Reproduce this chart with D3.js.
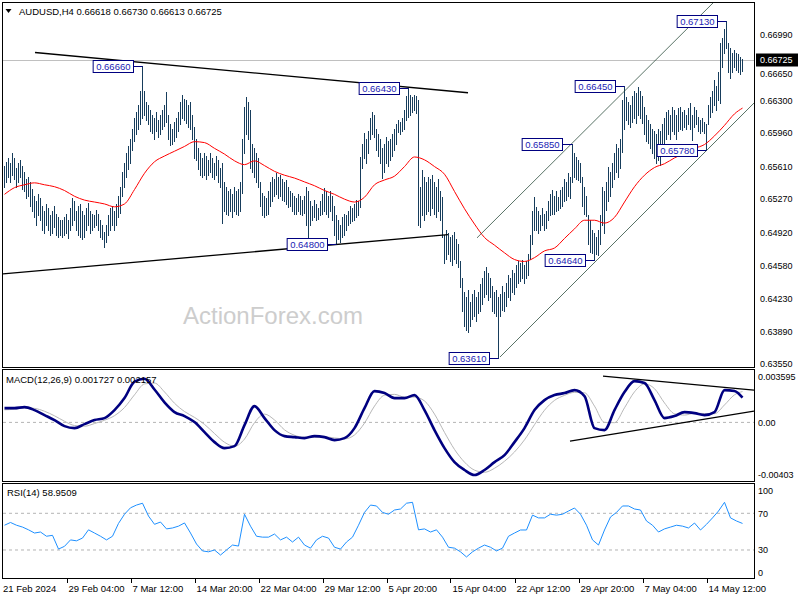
<!DOCTYPE html>
<html>
<head>
<meta charset="utf-8">
<script src="https://cdn.jsdelivr.net/npm/d3@7"></script>
<style>
  body { margin: 0; background: #fff; }
  text { font-family: "Liberation Sans", Arial, sans-serif; }
</style>
</head>
<body>
<svg id="chart" width="800" height="600"></svg>
<script>
// AUDUSD H4 bars, prices in pips (0.0001)
var highs = [
  6562,6566,6570,6565,6575,6570,6560,6565,6568,6562,
  6555,6548,6550,6545,6538,6530,6525,6532,6528,6520,
  6515,6522,6518,6510,6515,6520,6512,6508,6505,6505,
  6508,6512,6505,6518,6528,6525,6515,6520,6522,6515,
  6510,6518,6523,6515,6512,6510,6516,6512,6505,6500,
  6493,6500,6510,6518,6520,6515,6522,6530,6540,6555,
  6565,6575,6582,6590,6600,6612,6618,6625,6640,6666,
  6640,6628,6625,6620,6615,6612,6618,6610,6615,6620,
  6625,6639,6615,6605,6600,6608,6612,6618,6628,6636,
  6632,6630,6625,6628,6615,6602,6590,6580,6575,6570,
  6575,6572,6568,6575,6570,6565,6572,6568,6560,6565,
  6545,6540,6535,6538,6532,6540,6535,6538,6545,6590,
  6623,6634,6628,6620,6585,6580,6575,6570,6545,6533,
  6530,6528,6535,6545,6550,6548,6554,6550,6552,6548,
  6545,6547,6540,6535,6533,6530,6528,6532,6530,6526,
  6530,6540,6535,6525,6520,6526,6522,6518,6525,6532,
  6539,6535,6530,6536,6530,6520,6510,6505,6500,6508,
  6512,6510,6515,6520,6518,6522,6526,6525,6571,6585,
  6596,6590,6598,6612,6618,6615,6600,6595,6590,6580,
  6585,6592,6588,6590,6595,6600,6605,6610,6608,6612,
  6620,6635,6643,6636,6634,6636,6635,6630,6540,6557,
  6550,6545,6550,6548,6552,6545,6540,6548,6535,6529,
  6490,6495,6492,6488,6490,6493,6485,6480,6462,6445,
  6430,6425,6432,6420,6428,6432,6425,6430,6438,6445,
  6452,6456,6450,6445,6436,6430,6432,6425,6428,6436,
  6430,6440,6448,6445,6453,6450,6458,6462,6460,6464,
  6458,6462,6470,6490,6515,6529,6519,6515,6510,6518,
  6512,6515,6525,6532,6537,6530,6535,6529,6537,6540,
  6548,6545,6554,6550,6585,6575,6571,6568,6565,6550,
  6540,6530,6510,6505,6495,6492,6488,6495,6510,6540,
  6535,6545,6561,6555,6565,6575,6585,6580,6590,6630,
  6645,6634,6628,6625,6635,6640,6638,6644,6640,6635,
  6623,6615,6610,6605,6600,6598,6595,6600,6598,6605,
  6612,6618,6620,6615,6623,6620,6615,6622,6623,6618,
  6620,6615,6622,6627,6615,6623,6620,6613,6610,6612,
  6608,6605,6625,6634,6640,6651,6645,6660,6690,6695,
  6705,6713,6690,6685,6680,6683,6680,6678,6675,6673
];
var lows = [
  6540,6545,6550,6545,6552,6548,6540,6545,6550,6538,
  6535,6528,6530,6520,6515,6508,6500,6510,6505,6495,
  6492,6500,6495,6490,6492,6498,6490,6488,6490,6488,
  6490,6492,6486,6495,6500,6505,6495,6490,6488,6485,
  6488,6495,6500,6492,6495,6498,6500,6495,6488,6485,
  6477,6482,6490,6495,6500,6495,6500,6508,6513,6530,
  6540,6550,6558,6565,6578,6588,6595,6600,6605,6612,
  6615,6610,6605,6598,6596,6590,6598,6592,6595,6600,
  6603,6607,6590,6583,6585,6588,6592,6598,6605,6612,
  6610,6606,6602,6600,6590,6570,6568,6558,6552,6550,
  6552,6548,6552,6555,6550,6548,6552,6545,6540,6502,
  6515,6512,6510,6515,6508,6515,6512,6510,6515,6533,
  6575,6595,6590,6560,6555,6550,6545,6540,6520,6510,
  6508,6510,6512,6520,6525,6530,6532,6528,6530,6526,
  6525,6522,6519,6520,6515,6511,6512,6515,6512,6510,
  6513,6500,6484,6500,6505,6508,6505,6506,6510,6512,
  6515,6512,6508,6515,6505,6490,6480,6485,6482,6488,
  6490,6495,6500,6502,6504,6505,6508,6510,6519,6560,
  6570,6565,6575,6590,6595,6592,6578,6572,6565,6549,
  6555,6565,6562,6568,6572,6578,6585,6597,6595,6598,
  6600,6610,6613,6615,6618,6620,6617,6500,6498,6510,
  6505,6512,6515,6510,6518,6512,6508,6515,6505,6488,
  6460,6465,6470,6462,6458,6465,6460,6456,6435,6410,
  6395,6390,6388,6395,6402,6405,6400,6408,6410,6418,
  6425,6428,6422,6425,6410,6408,6405,6361,6405,6411,
  6410,6415,6425,6422,6430,6428,6435,6440,6442,6445,
  6440,6445,6448,6465,6480,6495,6495,6492,6495,6500,
  6495,6497,6505,6510,6512,6512,6515,6516,6518,6520,
  6525,6526,6530,6528,6545,6550,6548,6547,6545,6520,
  6512,6509,6480,6472,6471,6464,6470,6469,6480,6500,
  6492,6516,6525,6530,6540,6548,6555,6550,6560,6576,
  6600,6610,6605,6602,6608,6612,6606,6615,6612,6606,
  6595,6588,6586,6580,6575,6570,6565,6568,6563,6575,
  6585,6590,6595,6590,6598,6595,6590,6598,6600,6599,
  6602,6600,6605,6600,6589,6602,6605,6598,6596,6598,
  6596,6578,6605,6613,6618,6625,6620,6630,6627,6665,
  6680,6685,6660,6653,6660,6665,6662,6660,6658,6661
];

// moving average (red), one reading every 5 bars, last one on the last bar
var maStep = 5;
var maVals = [
  6532,6539,6542,6544,6542,6540,6536,6530,6526,6524,
  6522,6519,6522,6537,6554,6566,6572,6577,6582,6587,
  6586,6580,6574,6567,6563,6567,6562,6556,6552,6549,
  6545,6541,6536,6532,6527,6524,6529,6542,6547,6551,
  6561,6571,6568,6561,6553,6535,6517,6501,6487,6479,
  6471,6464,6462,6466,6473,6476,6486,6496,6505,6505,
  6502,6508,6524,6540,6552,6560,6564,6570,6575,6580,
  6584,6593,6604,6616,6622
];

// MACD(12,26,9), one reading every 5 bars
var macdStep = 5;
var macdMain = [
  0.00100,0.00100,0.00107,0.00086,0.00051,0.00016,-0.00026,-0.00040,-0.00012,0.00016,
  0.00030,0.00086,0.00170,0.00285,0.00305,0.00230,0.00140,0.00072,0.00044,0.00002,
  -0.00068,-0.00138,-0.00180,-0.00166,-0.00019,0.00114,0.00030,-0.00054,-0.00096,-0.00103,
  -0.00110,-0.00096,-0.00103,-0.00124,-0.00110,-0.00040,0.00100,0.00219,0.00205,0.00170,
  0.00170,0.00191,0.00086,-0.00054,-0.00180,-0.00278,-0.00333,-0.00368,-0.00333,-0.00278,
  -0.00229,-0.00138,-0.00040,0.00086,0.00156,0.00191,0.00205,0.00226,0.00184,-0.00040,
  -0.00054,0.00086,0.00212,0.00289,0.00275,0.00156,0.00030,0.00044,0.00072,0.00065,
  0.00051,0.00072,0.00226,0.00219,0.001727
];
var macdSignal = [
  0.00088,0.00092,0.00102,0.00098,0.00078,0.00046,0.00008,-0.00022,-0.00027,-0.00008,
  0.00015,0.00047,0.00104,0.00193,0.00269,0.00275,0.00213,0.00134,0.00076,0.00035,
  -0.00014,-0.00078,-0.00139,-0.00167,-0.00117,-0.00002,0.00058,0.00017,-0.00052,-0.00090,
  -0.00104,-0.00104,-0.00101,-0.00109,-0.00115,-0.00088,-0.00005,0.00114,0.00190,0.00196,
  0.00177,0.00177,0.00150,0.00058,-0.00070,-0.00189,-0.00278,-0.00334,-0.00349,-0.00321,
  -0.00272,-0.00207,-0.00122,-0.00016,0.00085,0.00154,0.00189,0.00210,0.00207,0.00114,
  0.00000,-0.00002,0.00102,0.00214,0.00269,0.00236,0.00136,0.00060,0.00051,0.00064,
  0.00062,0.00061,0.00122,0.00193,0.002157
];

// RSI(14), one reading every 3 bars
var rsiStep = 3;
var rsiVals = [
  57,60,57,55,52,48.5,49.6,45,46,31,
  34,41,40,43,52,48.5,45,41,45,59,
  69,76,79,81,67,58,60.5,53,54,56,
  59.5,48.5,36.5,29,28,30,24.5,30,35.4,34.3,
  69,56,45,44,44,47.4,41,44,38.7,44,
  35.4,32,41,45,43,33,31,38.7,44,57,
  71,79,78,71,69,73.6,74.7,81,82,52,
  53,49.6,52,44,33,32,28,22.4,28,32,
  35.4,33,29,32,45,48.5,51.8,51.8,68,65,
  65,69,68,69,72.5,75.8,69,57,41,35.4,
  51.8,66,71,78,78,74.7,73.6,61.6,57,49.6,
  53,55,57,56,54,59.4,51.8,58,65,72.5,
  82,65,61.6,58.95
];

// axis labels
var priceTicks = [0.66990,0.66650,0.66300,0.65960,0.65610,0.65270,0.64920,0.64580,0.64230,0.63890,0.63550];
var macdTicks = [0.003595, 0, -0.00403];
var macdTickLabels = ["0.003595", "0.00", "-0.00403"];
var rsiTicks = [100, 70, 30, 0];
var timeTickBars = [31,63,95,127,159,191,223,255,287,319,351];
var timeTickLabels = ["29 Feb 04:00","7 Mar 12:00","14 Mar 20:00","22 Mar 04:00","29 Mar 12:00",
  "5 Apr 20:00","15 Apr 04:00","22 Apr 12:00","29 Apr 20:00","7 May 04:00","14 May 12:00"];

// swing labels [bar, price]
var swingBars = [69, 202, 166, 247, 284, 295, 310, 351, 361];
var swingPrices = [0.66660, 0.66430, 0.64800, 0.63610, 0.65850, 0.64640, 0.66450, 0.65780, 0.67130];

// trend lines, each [bar, value] -> [bar, value]
var priceLines = [
  [[15.25, 0.6680], [231.75, 0.6638]],
  [[-0.75, 0.6449], [221.75, 0.6490]]
];
var channelLines = [
  [[236.25, 0.64866], [354.25, 0.67317]],
  [[247.75, 0.63623], [374.75, 0.66273]]
];
var macdLines = [
  [[299.25, 0.003236], [374.75, 0.002258]],
  [[282.75, -0.001307], [374.75, 0.00079]]
];

var lastClose = 0.66725;

var svg = d3.select("#chart"),
    lastBar = highs.length - 1;

var x = d3.scaleLinear().domain([0, lastBar]).range([4.5, 742.5]);
var yPrice = d3.scaleLinear().domain([0.6355, 0.6699]).range([364, 34.3]);
var yMacd = d3.scaleLinear().domain([-0.00403, 0.003595]).range([480, 371]);
var yRsi = d3.scaleLinear().domain([0, 100]).range([577.5, 485.8]);

var panels = [
  {id: "main", y: 2.5, h: 365},
  {id: "macd", y: 369.5, h: 112},
  {id: "rsi", y: 483.5, h: 95}
];

var defs = svg.append("defs");
panels.forEach(function(p) {
  defs.append("clipPath").attr("id", "clip-" + p.id)
    .append("rect").attr("x", 3).attr("y", p.y + 0.5).attr("width", 751).attr("height", p.h - 1);
});

function strided(vals, step) {
  return vals.map(function(v, k) { return {i: Math.min(k * step, lastBar), v: v}; });
}

// ---- main panel
var main = svg.append("g").attr("clip-path", "url(#clip-main)");

main.append("text")
    .attr("x", 183).attr("y", 324)
    .attr("font-size", 24).attr("fill", "#cdcdcd")
    .text("ActionForex.com");

main.append("line")
    .attr("x1", 2).attr("x2", 755)
    .attr("y1", Math.round(yPrice(lastClose)) + 0.5).attr("y2", Math.round(yPrice(lastClose)) + 0.5)
    .attr("stroke", "#c0c0c0");

main.append("g").selectAll("line")
  .data(highs)
  .enter().append("line")
    .attr("x1", function(d, i) { return x(i); })
    .attr("x2", function(d, i) { return x(i); })
    .attr("y1", function(d) { return yPrice(d / 10000); })
    .attr("y2", function(d, i) { return yPrice(lows[i] / 10000) + 1; })
    .attr("stroke", "#173d5c")
    .attr("stroke-width", 1)
    .attr("shape-rendering", "crispEdges");

main.append("path")
    .datum(strided(maVals, maStep))
    .attr("fill", "none")
    .attr("stroke", "#ff0000")
    .attr("stroke-width", 1)
    .attr("d", d3.line().curve(d3.curveMonotoneX)
      .x(function(d) { return x(d.i); })
      .y(function(d) { return yPrice(d.v / 10000); }));

function drawLines(g, lines, yScale, color, width) {
  g.selectAll(null)
    .data(lines)
    .enter().append("line")
      .attr("x1", function(d) { return x(d[0][0]); })
      .attr("y1", function(d) { return yScale(d[0][1]); })
      .attr("x2", function(d) { return x(d[1][0]); })
      .attr("y2", function(d) { return yScale(d[1][1]); })
      .attr("stroke", color)
      .attr("stroke-width", width);
}

drawLines(main, priceLines, yPrice, "#000", 1.3);
drawLines(main, channelLines, yPrice, "#2f4f3f", 0.8);

// swing price labels
var swings = swingBars.map(function(b, k) { return {i: b, p: swingPrices[k]}; });
var sg = main.append("g").selectAll("g")
  .data(swings)
  .enter().append("g");

sg.each(function(d) {
  var g = d3.select(this),
      yy = Math.round(yPrice(d.p)) + 0.5,
      t = g.append("text")
        .attr("font-size", 9.5)
        .attr("fill", "#1a1ab4")
        .text(d.p.toFixed(5)),
      w = t.node().getComputedTextLength() + 6,
      right = Math.round(x(d.i) - 10) + 0.5;
  g.insert("rect", "text")
    .attr("x", right - w).attr("y", yy - 6)
    .attr("width", w).attr("height", 12)
    .attr("fill", "#fff").attr("stroke", "#000080");
  t.attr("x", right - w + 3).attr("y", yy + 3.5);
  g.append("line")
    .attr("x1", right).attr("x2", x(d.i))
    .attr("y1", yy).attr("y2", yy)
    .attr("stroke", "#000080");
});

// ---- MACD panel
var macdG = svg.append("g").attr("clip-path", "url(#clip-macd)");

macdG.append("line")
    .attr("x1", 3).attr("x2", 754)
    .attr("y1", yMacd(0)).attr("y2", yMacd(0))
    .attr("stroke", "#b4b4b4").attr("stroke-dasharray", "3,3");

macdG.append("path")
    .datum(strided(macdSignal, macdStep))
    .attr("fill", "none")
    .attr("stroke", "#b8b8b8")
    .attr("stroke-width", 1)
    .attr("d", d3.line().curve(d3.curveMonotoneX)
      .x(function(d) { return x(d.i); })
      .y(function(d) { return yMacd(d.v); }));

macdG.append("path")
    .datum(strided(macdMain, macdStep))
    .attr("fill", "none")
    .attr("stroke", "#000080")
    .attr("stroke-width", 2.6)
    .attr("stroke-linejoin", "round")
    .attr("d", d3.line().curve(d3.curveMonotoneX)
      .x(function(d) { return x(d.i); })
      .y(function(d) { return yMacd(d.v); }));

drawLines(macdG, macdLines, yMacd, "#000", 1.2);

// ---- RSI panel
var rsiG = svg.append("g").attr("clip-path", "url(#clip-rsi)");

rsiG.selectAll(null)
  .data([70, 30])
  .enter().append("line")
    .attr("x1", 3).attr("x2", 754)
    .attr("y1", function(d) { return yRsi(d); })
    .attr("y2", function(d) { return yRsi(d); })
    .attr("stroke", "#b4b4b4").attr("stroke-dasharray", "3,3");

rsiG.append("path")
    .datum(strided(rsiVals, rsiStep))
    .attr("fill", "none")
    .attr("stroke", "#1e90ff")
    .attr("stroke-width", 1)
    .attr("d", d3.line()
      .x(function(d) { return x(d.i); })
      .y(function(d) { return yRsi(d.v); }));

// ---- frames
svg.append("g").selectAll("rect")
  .data(panels)
  .enter().append("rect")
    .attr("x", 2.5).attr("y", function(d) { return d.y; })
    .attr("width", 752).attr("height", function(d) { return d.h; })
    .attr("fill", "none").attr("stroke", "#000");

// ---- right axes
var axisG = svg.append("g").attr("font-size", 9).attr("fill", "#000");
var boxTop = Math.round(yPrice(lastClose)) - 6.5;

// the tick just under the current price box is pushed below it
axisG.selectAll(null)
  .data(priceTicks)
  .enter().append("text")
    .attr("x", 760)
    .attr("y", function(d) {
      var yy = yPrice(d);
      if (Math.abs(yy - yPrice(lastClose)) < 10) yy = Math.max(yy, boxTop + 13 + 7.2);
      return yy + 3.3;
    })
    .attr("font-size", 9)
    .text(function(d) { return d.toFixed(5); });

axisG.append("rect")
    .attr("x", 756).attr("y", boxTop)
    .attr("width", 42).attr("height", 13)
    .attr("fill", "#000");
axisG.append("text")
    .attr("x", 760).attr("y", yPrice(lastClose) + 3.3)
    .attr("font-size", 9).attr("fill", "#fff")
    .text(lastClose.toFixed(5));

var macdLabelY = [377, yMacd(0), 474.3];
axisG.selectAll(null)
  .data(macdTicks)
  .enter().append("text")
    .attr("x", 758)
    .attr("y", function(d, k) { return macdLabelY[k] + 3.3; })
    .attr("font-size", 9)
    .text(function(d, k) { return macdTickLabels[k]; });

axisG.selectAll(null)
  .data(rsiTicks)
  .enter().append("text")
    .attr("x", 758)
    .attr("y", function(d) { return Math.min(572.3, Math.max(490.7, yRsi(d))) + 3.3; })
    .attr("font-size", 9)
    .text(function(d) { return d; });

// ---- time axis
var timeG = svg.append("g");
timeG.selectAll("line")
  .data(timeTickBars)
  .enter().append("line")
    .attr("x1", function(d) { return Math.round(x(d)) + 0.5; })
    .attr("x2", function(d) { return Math.round(x(d)) + 0.5; })
    .attr("y1", 578.5).attr("y2", 583)
    .attr("stroke", "#000");
timeG.selectAll("text")
  .data(timeTickBars)
  .enter().append("text")
    .attr("x", function(d) { return x(d) + 2; })
    .attr("y", 591.5)
    .attr("font-size", 9.5)
    .text(function(d, k) { return timeTickLabels[k]; });
timeG.append("text")
    .attr("x", 3).attr("y", 591.5).attr("font-size", 9.5)
    .text("21 Feb 2024");

// ---- panel titles
svg.append("path").attr("d", "M5.5,9 L11.5,9 L8.5,13 Z").attr("fill", "#000");
svg.append("text").attr("x", 19).attr("y", 14.5).attr("font-size", 9.5)
    .text("AUDUSD,H4  0.66618 0.66730 0.66613 0.66725");
svg.append("text").attr("x", 6).attr("y", 382.5).attr("font-size", 9.5)
    .text("MACD(12,26,9) 0.001727 0.002157");
svg.append("text").attr("x", 7).attr("y", 496).attr("font-size", 9.5)
    .text("RSI(14) 58.9509");
</script>
</body>
</html>
